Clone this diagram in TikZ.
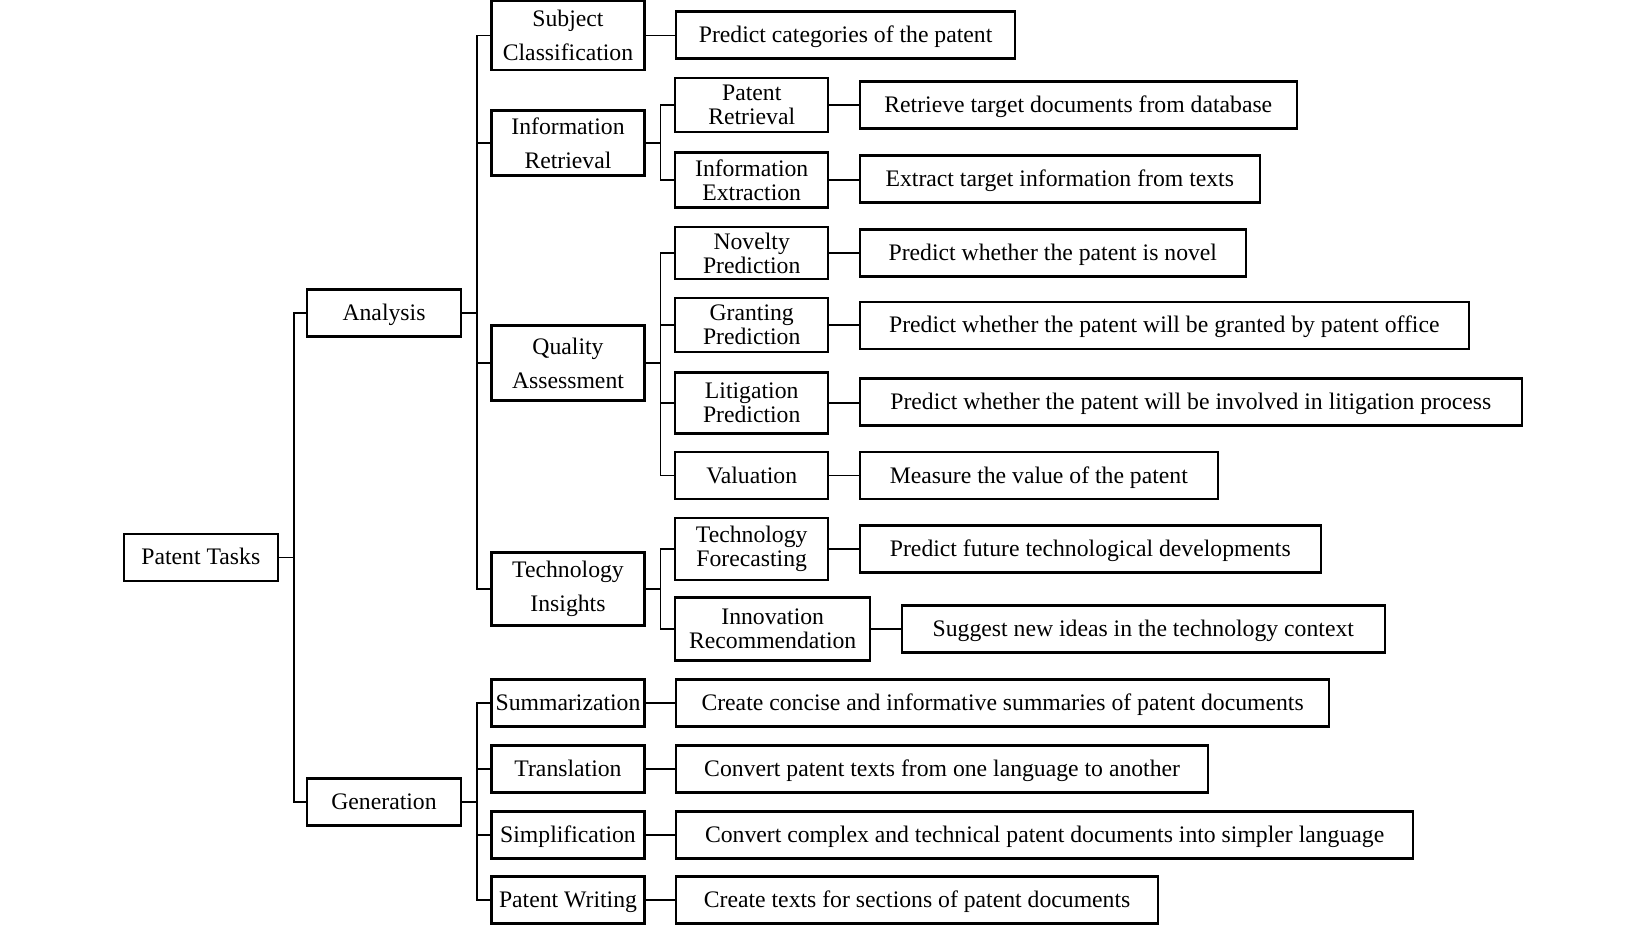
\documentclass[tikz,border=0pt]{standalone}
\usepackage{fontspec}
\setmainfont{Liberation Serif}
\usetikzlibrary{positioning}
\tikzset{
  box/.style={draw, line width=2.2pt, inner sep=0pt, align=center, minimum height=47pt},
  oneline/.style={text height=16pt, text depth=1pt},
  catbox/.style={box, minimum width=154pt, font=\fontsize{23.7}{34}\selectfont},
  taskbox/.style={box, minimum width=153pt, font=\fontsize{23.7}{24}\selectfont},
  descbox/.style={box, oneline, anchor=west, font=\fontsize{23.7}{24}\selectfont},
  link/.style={line width=1.3pt}
}

\begin{document}
\begin{tikzpicture}[x=1pt,y=-1pt]
  \useasboundingbox (0,0) rectangle (1644,925);
  % root and first level
  \node[catbox, oneline] (root) at (200.8,557.3) {Patent Tasks};
  \node[catbox, oneline] (ana) at (384,313) {Analysis};
  \node[catbox, oneline] (gen) at (384,802) {Generation};
  % second level
  \node[catbox, minimum width=153pt, minimum height=69pt] (subj) at (568,35.5) {Subject\\Classification};
  \node[catbox, minimum width=153pt, minimum height=65pt] (infret) at (568,143) {Information\\Retrieval};
  \node[catbox, minimum width=153pt, minimum height=75pt] (qual) at (568,363) {Quality\\Assessment};
  \node[catbox, minimum width=153pt, minimum height=73pt] (techins) at (568,589) {Technology\\Insights};
  \node[catbox, oneline, minimum width=153pt] (summ) at (568,703) {Summarization};
  \node[catbox, oneline, minimum width=153pt] (trans) at (568,769) {Translation};
  \node[catbox, oneline, minimum width=153pt] (simpl) at (568,835) {Simplification};
  \node[catbox, oneline, minimum width=153pt] (pwrite) at (568,900) {Patent Writing};
  % third level
  \node[taskbox, minimum height=54pt] (patret) at (751.7,105) {Patent\\Retrieval};
  \node[taskbox, minimum height=55pt] (infext) at (751.7,180) {Information\\Extraction};
  \node[taskbox, minimum height=52pt] (novel) at (751.7,253) {Novelty\\Prediction};
  \node[taskbox, minimum height=54pt] (grant) at (751.7,325) {Granting\\Prediction};
  \node[taskbox, minimum height=61pt] (litig) at (751.7,403) {Litigation\\Prediction};
  \node[taskbox, oneline] (valu) at (751.7,475.5) {Valuation};
  \node[taskbox, minimum height=62pt] (techfor) at (751.7,549) {Technology\\Forecasting};
  \node[taskbox, minimum width=195pt, minimum height=63pt] (innrec) at (772.7,629) {Innovation\\Recommendation};
  % descriptions
  \node[descbox, minimum width=339pt] (subj-d) at (675,35) {Predict categories of the patent};
  \node[descbox, minimum width=437pt] (patret-d) at (858.7,105) {Retrieve target documents from database};
  \node[descbox, minimum width=400pt] (infext-d) at (858.7,179) {Extract target information from texts};
  \node[descbox, minimum width=386pt] (novel-d) at (858.7,253) {Predict whether the patent is novel};
  \node[descbox, minimum width=609pt] (grant-d) at (858.7,325.5) {Predict whether the patent will be granted by patent office};
  \node[descbox, minimum width=662pt] (litig-d) at (858.7,402) {Predict whether the patent will be involved in litigation process};
  \node[descbox, minimum width=358pt] (valu-d) at (858.7,475.5) {Measure the value of the patent};
  \node[descbox, minimum width=461pt] (techfor-d) at (858.7,549) {Predict future technological developments};
  \node[descbox, minimum width=483pt] (innrec-d) at (900.7,629) {Suggest new ideas in the technology context};
  \node[descbox, minimum width=653pt] (summ-d) at (675,703) {Create concise and informative summaries of patent documents};
  \node[descbox, minimum width=532pt] (trans-d) at (675,769) {Convert patent texts from one language to another};
  \node[descbox, minimum width=737pt] (simpl-d) at (675,835) {Convert complex and technical patent documents into simpler language};
  \node[descbox, minimum width=482pt] (pwrite-d) at (675,900) {Create texts for sections of patent documents};
  % tree links
  \foreach \p/\c in {root/ana,root/gen,ana/subj,ana/infret,ana/qual,ana/techins,
      gen/summ,gen/trans,gen/simpl,gen/pwrite,infret/patret,infret/infext,
      qual/novel,qual/grant,qual/litig,qual/valu,techins/techfor,techins/innrec}
    \draw[link] (\p.east) -- ++(15,0) |- (\c.west);
  \foreach \n in {subj,patret,infext,novel,grant,litig,valu,techfor,innrec,summ,trans,simpl,pwrite}
    \draw[link] (\n.east) -- (\n.east -| \n-d.west);
\end{tikzpicture}
\end{document}
